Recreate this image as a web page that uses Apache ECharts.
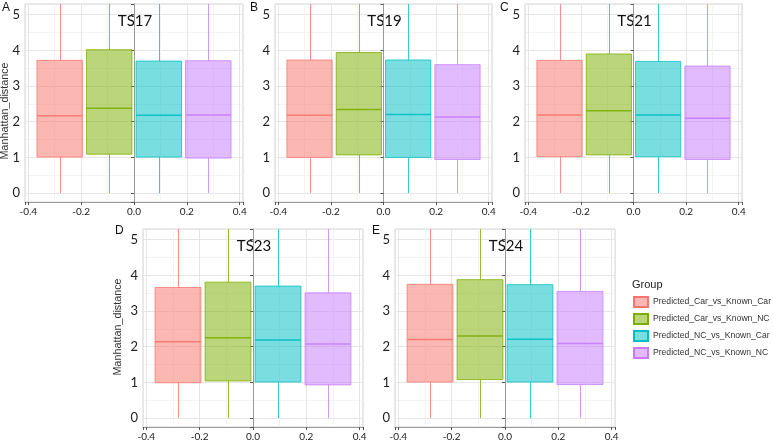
<!DOCTYPE html>
<html>
<head>
<meta charset="utf-8">
<title>Manhattan distance by group</title>
<script src="https://cdn.jsdelivr.net/npm/echarts@6/dist/echarts.min.js"></script>
<style>
  html, body { margin: 0; padding: 0; background: #fff; }
  #chart { width: 773px; height: 442px; }
</style>
</head>
<body>
<div id="chart"></div>
<script type="text/javascript">
// groups in legend order, and where each box sits on the x axis
var groups = ['Predicted_Car_vs_Known_Car', 'Predicted_Car_vs_Known_NC', 'Predicted_NC_vs_Known_Car', 'Predicted_NC_vs_Known_NC'];
var groupX = [-0.28125, -0.09375, 0.09375, 0.28125];
var panelNames = ['TS17', 'TS19', 'TS21', 'TS23', 'TS24'];
var panelLetters = ['A', 'B', 'C', 'D', 'E'];

// [min, Q1, median, Q3, max] for each group; upper whisker runs past the top of the plot
var ts17 = [[0, 1.01, 2.17, 3.72, 5.3], [0, 1.09, 2.38, 4.02, 5.3], [0, 1.01, 2.18, 3.70, 5.3], [0, 0.98, 2.19, 3.71, 5.3]];
var ts19 = [[0, 1.00, 2.18, 3.73, 5.3], [0, 1.07, 2.34, 3.94, 5.3], [0, 1.00, 2.20, 3.73, 5.3], [0, 0.94, 2.13, 3.60, 5.3]];
var ts21 = [[0, 1.02, 2.19, 3.72, 5.3], [0, 1.07, 2.31, 3.90, 5.3], [0, 1.02, 2.19, 3.69, 5.3], [0, 0.94, 2.10, 3.56, 5.3]];
var ts23 = [[0, 0.99, 2.14, 3.66, 5.3], [0, 1.04, 2.25, 3.81, 5.3], [0, 1.01, 2.19, 3.70, 5.3], [0, 0.93, 2.08, 3.51, 5.3]];
var ts24 = [[0, 1.01, 2.20, 3.75, 5.3], [0, 1.08, 2.30, 3.88, 5.3], [0, 1.01, 2.21, 3.74, 5.3], [0, 0.94, 2.09, 3.55, 5.3]];
var panelData = [ts17, ts19, ts21, ts23, ts24];

var xTicks = [-0.4, -0.2, 0.0, 0.2, 0.4];
var yTicks = [0, 1, 2, 3, 4, 5];
var yTitle = 'Manhattan_distance';

var hues = ['#F8766D', '#7CAE00', '#00BFC4', '#C77CFF'];
var fills = ['rgba(248,118,109,0.52)', 'rgba(124,174,0,0.52)', 'rgba(0,191,196,0.52)', 'rgba(199,124,255,0.52)'];

// plot areas in pixels
var boxes = [
	{ left: 25, top: 4, width: 218, height: 198 },
	{ left: 275, top: 4, width: 217, height: 198 },
	{ left: 525, top: 4, width: 217, height: 198 },
	{ left: 143, top: 229, width: 220, height: 198 },
	{ left: 395, top: 229, width: 220, height: 198 }
];
var BOX_W = 0.172;
var FONT = 'Lato, "Open Sans", sans-serif';
var SANS = '"Liberation Sans", Arial, sans-serif';

function onTick(list, v) {
	for (var i = 0; i < list.length; i++) {
		if (Math.abs(list[i] - v) < 1e-6) return true;
	}
	return false;
}

function boxRenderer(g) {
	return function (params, api) {
		var x = api.value(0);
		var h = BOX_W / 2;
		var lo = api.coord([x, api.value(1)]);
		var q1 = api.coord([x - h, api.value(2)]);
		var med = api.coord([x - h, api.value(3)]);
		var medR = api.coord([x + h, api.value(3)]);
		var q3 = api.coord([x + h, api.value(4)]);
		var hi = api.coord([x, api.value(5)]);
		var cx = Math.round(lo[0]) + 0.5;
		return {
			type: 'group',
			children: [
				{ type: 'line', shape: { x1: cx, y1: q1[1], x2: cx, y2: lo[1] },
				  style: { stroke: hues[g], lineWidth: 1, opacity: 0.8 } },
				{ type: 'line', shape: { x1: cx, y1: q3[1], x2: cx, y2: hi[1] },
				  style: { stroke: hues[g], lineWidth: 1, opacity: 0.8 } },
				{ type: 'rect', shape: { x: q1[0], y: q3[1], width: q3[0] - q1[0], height: q1[1] - q3[1] },
				  style: { fill: fills[g], stroke: hues[g], lineWidth: 1, strokeOpacity: 0.75 } },
				{ type: 'line', shape: { x1: med[0], y1: med[1], x2: medR[0], y2: medR[1] },
				  style: { stroke: hues[g], lineWidth: 1.5, opacity: 0.9 } }
			]
		};
	};
}

var grid = [], xAxis = [], yAxis = [], series = [], graphic = [];

panelData.forEach(function (pd, p) {
	var b = boxes[p];
	grid.push({ left: b.left, top: b.top, width: b.width, height: b.height,
		show: true, borderColor: '#d4d4d4', borderWidth: 1, backgroundColor: '#fff', outerBoundsMode: 'none' });
	xAxis.push({
		gridIndex: p, type: 'value', min: -0.4125, max: 0.4125,
		minInterval: 0.2, maxInterval: 0.2,
		axisLine: { show: true, onZero: false, lineStyle: { color: '#9a9a9a', width: 1 } },
		axisTick: { show: true, length: 3, lineStyle: { color: '#555' } },
		axisLabel: { fontFamily: FONT, fontSize: 10, color: '#222', margin: 5,
			formatter: function (v) { return onTick(xTicks, v) ? v.toFixed(1) : ''; } },
		splitLine: { show: true, lineStyle: { color: '#e6e6e6', width: 1 } },
		minorTick: { show: false, splitNumber: 2 },
		minorSplitLine: { show: true, lineStyle: { color: '#f3f3f3', width: 1 } }
	});
	yAxis.push({
		gridIndex: p, type: 'value', min: -0.25, max: 5.3,
		minInterval: 1, maxInterval: 1,
		axisLine: { show: true, lineStyle: { color: '#9a9a9a', width: 1 } },
		axisTick: { show: true, length: 3, lineStyle: { color: '#555' } },
		axisLabel: { fontFamily: FONT, fontSize: 13, color: '#222', margin: 5,
			formatter: function (v) { return onTick(yTicks, v) ? String(Math.round(v)) : ''; } },
		splitLine: { show: true, lineStyle: { color: '#e6e6e6', width: 1 } },
		minorTick: { show: false, splitNumber: 2 },
		minorSplitLine: { show: true, lineStyle: { color: '#f3f3f3', width: 1 } }
	});
	pd.forEach(function (st, g) {
		series.push({
			name: groups[g], type: 'custom', xAxisIndex: p, yAxisIndex: p, clip: true,
			itemStyle: { color: fills[g], borderColor: hues[g], borderWidth: 1 },
			renderItem: boxRenderer(g),
			encode: { x: 0, y: [1, 2, 3, 4, 5] },
			data: [[groupX[g]].concat(st)]
		});
	});
	graphic.push({ type: 'text', x: b.left + b.width / 2 + 1, y: b.top + 17,
		style: { text: panelNames[p], fontFamily: FONT, fontSize: 15, fill: '#111', textAlign: 'center', textVerticalAlign: 'middle' } });
});

// y-axis titles, only on the left column of each row
[[5, 111], [118, 327]].forEach(function (pos) {
	graphic.push({ type: 'text', x: pos[0], y: pos[1], rotation: Math.PI / 2,
		style: { text: yTitle, fontFamily: SANS, fontSize: 10.8, fill: '#333', textAlign: 'center', textVerticalAlign: 'middle' } });
});

var letterPos = [[2, 2], [250, 2], [500, 2], [115, 225], [372, 225]];
letterPos.forEach(function (lp, i) {
	graphic.push({ type: 'text', x: lp[0], y: lp[1],
		style: { text: panelLetters[i], fontFamily: SANS, fontSize: 12, fill: '#111' } });
});
graphic.push({ type: 'text', x: 632, y: 279,
	style: { text: 'Group', fontFamily: SANS, fontSize: 11, fill: '#222' } });

var myChart = echarts.init(document.getElementById('chart'), null, { renderer: 'canvas' });
myChart.setOption({
	animation: false,
	backgroundColor: '#fff',
	grid: grid,
	xAxis: xAxis,
	yAxis: yAxis,
	legend: {
		data: groups, orient: 'vertical', left: 633, top: 296, padding: 0,
		itemWidth: 14, itemHeight: 10, itemGap: 5, icon: 'rect',
		textStyle: { fontFamily: SANS, fontSize: 8.6, lineHeight: 10, color: '#333', width: 130, overflow: 'none' }
	},
	graphic: graphic,
	series: series
});
</script>
</body>
</html>
